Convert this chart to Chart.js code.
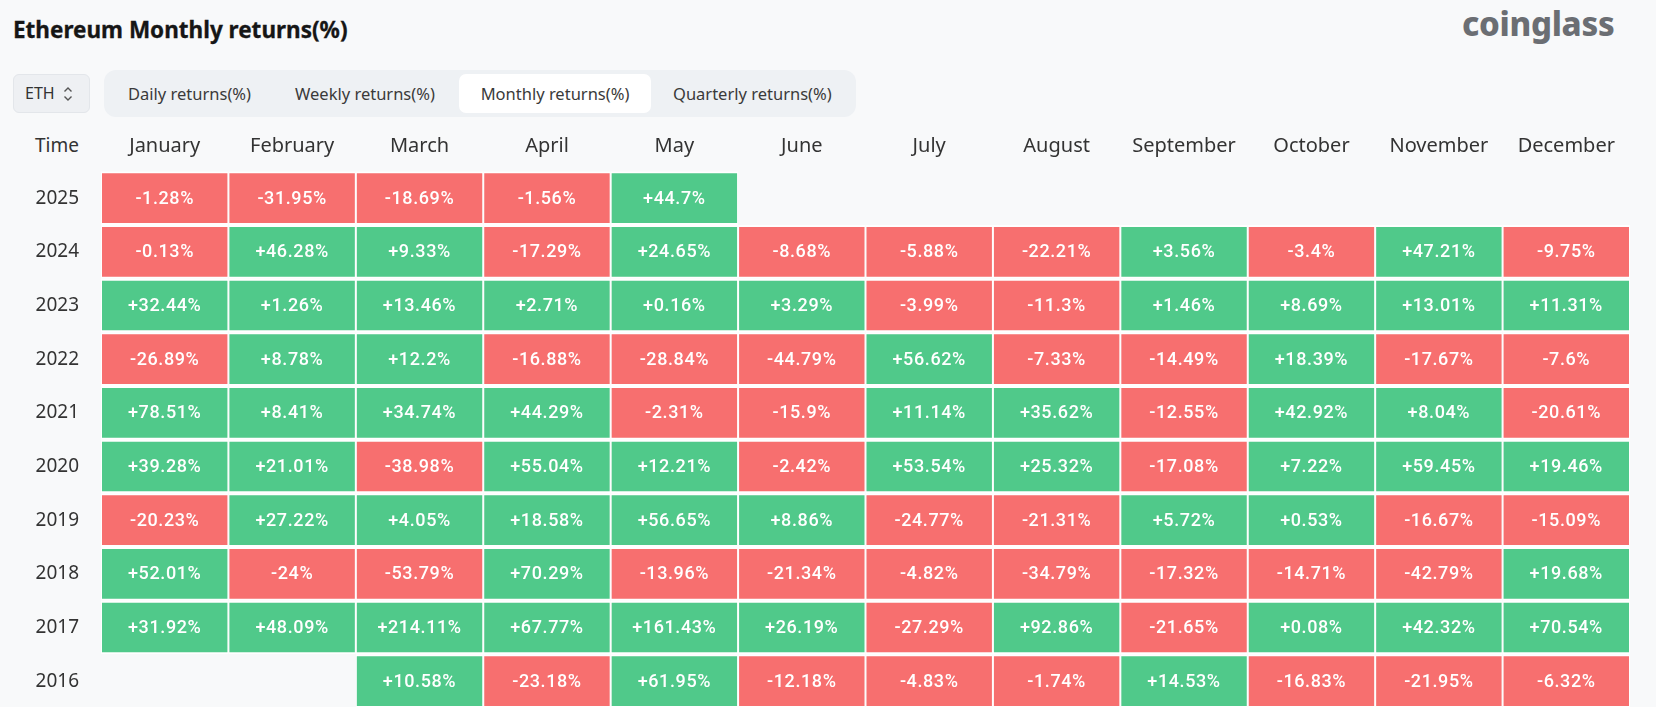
<!DOCTYPE html>
<html>
<head>
<meta charset="utf-8">
<script src="https://cdn.jsdelivr.net/npm/chart.js@4.4.1/dist/chart.umd.min.js"></script>
<style>
html,body{margin:0;padding:0;background:#f8f9fa;width:1656px;height:707px;overflow:hidden;font-family:"Noto Sans",sans-serif;}
#wrap{position:absolute;left:0;top:0;width:1656px;height:712px;}
#c{position:absolute;left:0;top:0;}
.title{position:absolute;left:13px;top:12px;height:36px;line-height:36px;font-weight:700;font-size:22.5px;color:#161616;white-space:nowrap;-webkit-text-stroke:0.3px #161616;}
.logo{position:absolute;left:1462px;top:2px;height:44px;line-height:44px;font-weight:800;font-size:33px;color:#6b6e73;letter-spacing:-0.3px;white-space:nowrap;}
.eth{position:absolute;left:13px;top:74px;width:75px;height:37px;border:1px solid #e3e6ea;background:#eef0f3;border-radius:6px;box-sizing:content-box;}
.eth span{position:absolute;left:11px;top:0;line-height:37px;font-size:16px;color:#333;}
.eth svg{position:absolute;left:48px;top:10px;}
.tabs{position:absolute;left:104px;top:70px;width:752px;height:47px;background:#eef1f4;border-radius:12px;}
.tab{position:absolute;top:4px;height:39px;line-height:39px;font-size:16.5px;color:#3a3a3a;white-space:nowrap;}
.tab.active{background:#fff;border-radius:7px;}
.time{position:absolute;left:30px;top:131px;height:28px;line-height:28px;font-size:19px;color:#333;width:54px;text-align:center;}
</style>
</head>
<body>
<div class="title">Ethereum Monthly returns(%)</div>
<div class="logo">coinglass</div>
<div class="eth"><span>ETH</span>
<svg width="12" height="18" viewBox="0 0 12 18"><path d="M2.5 6.5 L6 3 L9.5 6.5" fill="none" stroke="#555" stroke-width="1.4"/><path d="M2.5 11.5 L6 15 L9.5 11.5" fill="none" stroke="#555" stroke-width="1.4"/></svg>
</div>
<div class="tabs">
  <div class="tab" style="left:24px;">Daily returns(%)</div>
  <div class="tab" style="left:191px;">Weekly returns(%)</div>
  <div class="tab active" style="left:355px;width:192px;text-align:center;">Monthly returns(%)</div>
  <div class="tab" style="left:569px;">Quarterly returns(%)</div>
</div>
<div class="time">Time</div>
<div id="wrap"><canvas id="c" width="1656" height="712"></canvas></div>
<script>
const months = ['January','February','March','April','May','June','July','August','September','October','November','December'];
const years = [2025, 2024, 2023, 2022, 2021, 2020, 2019, 2018, 2017, 2016];
const returns2025 = [-1.28, -31.95, -18.69, -1.56, 44.7, null, null, null, null, null, null, null];
const returns2024 = [-0.13, 46.28, 9.33, -17.29, 24.65, -8.68, -5.88, -22.21, 3.56, -3.4, 47.21, -9.75];
const returns2023 = [32.44, 1.26, 13.46, 2.71, 0.16, 3.29, -3.99, -11.3, 1.46, 8.69, 13.01, 11.31];
const returns2022 = [-26.89, 8.78, 12.2, -16.88, -28.84, -44.79, 56.62, -7.33, -14.49, 18.39, -17.67, -7.6];
const returns2021 = [78.51, 8.41, 34.74, 44.29, -2.31, -15.9, 11.14, 35.62, -12.55, 42.92, 8.04, -20.61];
const returns2020 = [39.28, 21.01, -38.98, 55.04, 12.21, -2.42, 53.54, 25.32, -17.08, 7.22, 59.45, 19.46];
const returns2019 = [-20.23, 27.22, 4.05, 18.58, 56.65, 8.86, -24.77, -21.31, 5.72, 0.53, -16.67, -15.09];
const returns2018 = [52.01, -24, -53.79, 70.29, -13.96, -21.34, -4.82, -34.79, -17.32, -14.71, -42.79, 19.68];
const returns2017 = [31.92, 48.09, 214.11, 67.77, 161.43, 26.19, -27.29, 92.86, -21.65, 0.08, 42.32, 70.54];
const returns2016 = [null, null, 10.58, -23.18, 61.95, -12.18, -4.83, -1.74, 14.53, -16.83, -21.95, -6.32];
const returnsByYear = [returns2025, returns2024, returns2023, returns2022, returns2021, returns2020, returns2019, returns2018, returns2017, returns2016];

const UP = '#50c98a';
const DOWN = '#f76f6f';

const datasets = years.map((yr, i) => ({
  label: String(yr),
  returns: returnsByYear[i],
  data: returnsByYear[i].map(v => v == null ? null : [yr - 0.5, yr + 0.5]),
  backgroundColor: returnsByYear[i].map(v => v == null ? 'rgba(0,0,0,0)' : (v >= 0 ? UP : DOWN)),
  borderColor: '#ffffff',
  borderWidth: {left: 1, right: 1, top: 2, bottom: 2},
  borderSkipped: false,
  inflateAmount: 0,
  grouped: false,
  barPercentage: 1,
  categoryPercentage: 1
}));

const fmt = v => (v > 0 ? '+' : '') + v + '%';

const cellLabels = {
  id: 'cellLabels',
  afterDatasetsDraw(chart) {
    const ctx = chart.ctx;
    ctx.save();
    ctx.font = '500 18px Roboto';
    try { ctx.letterSpacing = '0.6px'; } catch (e) {}
    ctx.fillStyle = '#ffffff';
    ctx.textAlign = 'center';
    ctx.textBaseline = 'middle';
    chart.data.datasets.forEach((ds, di) => {
      const meta = chart.getDatasetMeta(di);
      meta.data.forEach((el, j) => {
        const v = ds.returns[j];
        if (v == null) return;
        ctx.fillText(fmt(v), el.x, (el.y + el.base) / 2 + 1);
      });
    });
    ctx.restore();
  }
};

new Chart(document.getElementById('c'), {
  type: 'bar',
  data: { labels: months, datasets },
  options: {
    responsive: false,
    animation: false,
    events: [],
    layout: { padding: { top: 120, right: 26, bottom: 4, left: 0 } },
    plugins: { legend: { display: false }, tooltip: { enabled: false } },
    scales: {
      x: {
        type: 'category',
        position: 'top',
        offset: true,
        grid: { display: false, drawTicks: false },
        border: { display: false },
        ticks: { color: '#333', font: { family: 'Noto Sans', size: 20 }, padding: 13, maxRotation: 0, autoSkip: false },
        afterFit(s) { s.height = 51.3; s.paddingLeft = 0; s.paddingRight = 0; }
      },
      y: {
        type: 'linear',
        min: 2015.5,
        max: 2025.5,
        bounds: 'data',
        grid: { display: false, drawTicks: false },
        border: { display: false },
        afterBuildTicks(s) { s.ticks = years.map(v => ({ value: v })); },
        ticks: { color: '#333', font: { family: 'Noto Sans', size: 19 }, padding: 22, crossAlign: 'center', callback: v => String(v) },
        afterFit(s) { s.width = 101; s.paddingTop = 0; s.paddingBottom = 0; }
      }
    }
  },
  plugins: [cellLabels]
});
</script>
</body>
</html>
